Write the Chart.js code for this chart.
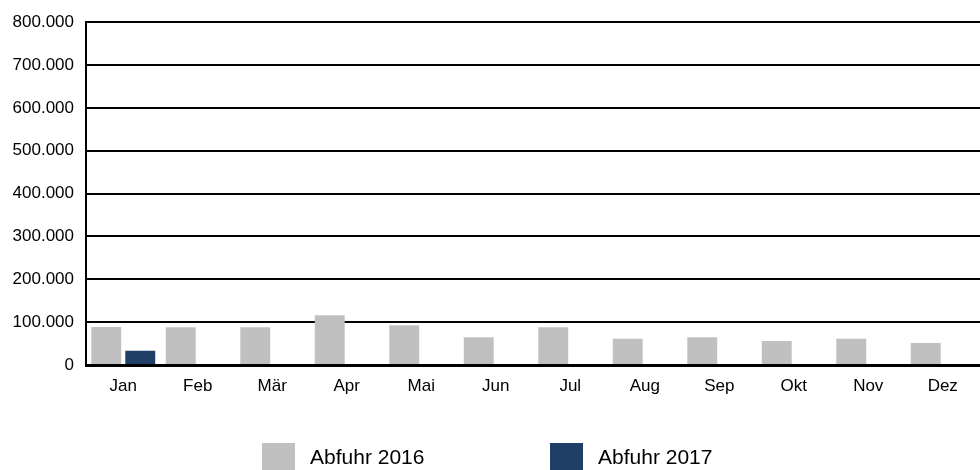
<!DOCTYPE html>
<html lang="de">
<head>
    <meta charset="UTF-8">
    <title>Abfuhr 2016 / 2017</title>
    <script src="https://cdnjs.cloudflare.com/ajax/libs/Chart.js/4.4.1/chart.umd.min.js"></script>
    <style>
        * { margin: 0; padding: 0; box-sizing: border-box; }
        body { background: #fff; }
        .chart-container { position: relative; width: 980px; height: 470px; }
    </style>
</head>
<body>
    <div class="chart-container">
        <canvas id="barChart"></canvas>
    </div>

    <script>
        const months = ['Jan', 'Feb', 'Mär', 'Apr', 'Mai', 'Jun', 'Jul', 'Aug', 'Sep', 'Okt', 'Nov', 'Dez'];
        const abfuhr2016 = [88500, 88000, 88000, 116000, 93000, 65000, 88000, 61000, 65000, 56000, 61000, 51500];
        const abfuhr2017 = [33000, null, null, null, null, null, null, null, null, null, null, null];
        const seriesNames = ['Abfuhr 2016', 'Abfuhr 2017'];
        const yTicks = [0, 100000, 200000, 300000, 400000, 500000, 600000, 700000, 800000];

        const FONT = '"Liberation Sans", Arial, sans-serif';

        function formatDE(v) {
            return String(v).replace(/\B(?=(\d{3})+(?!\d))/g, '.');
        }

        // legend drawn by hand so the boxes sit where the original has them
        const bottomLegend = {
            id: 'bottomLegend',
            afterDraw(chart) {
                const ctx = chart.ctx;
                const xs = [262, 550];
                ctx.save();
                ctx.font = '21px ' + FONT;
                ctx.textBaseline = 'middle';
                ctx.fillStyle = '#000';
                chart.data.datasets.forEach((ds, i) => {
                    ctx.fillStyle = ds.backgroundColor;
                    ctx.fillRect(xs[i], 443, 33, 27);
                    ctx.fillStyle = '#000';
                    ctx.fillText(ds.label, xs[i] + 48, 458);
                });
                ctx.restore();
            }
        };

        new Chart(document.getElementById('barChart'), {
            type: 'bar',
            data: {
                labels: months,
                datasets: [
                    {
                        label: seriesNames[0],
                        data: abfuhr2016,
                        backgroundColor: '#C0C0C0',
                        categoryPercentage: 0.913,
                        barPercentage: 0.88
                    },
                    {
                        label: seriesNames[1],
                        data: abfuhr2017,
                        backgroundColor: '#1F3F66',
                        categoryPercentage: 0.913,
                        barPercentage: 0.88
                    }
                ]
            },
            options: {
                responsive: true,
                maintainAspectRatio: false,
                animation: false,
                layout: { padding: { top: 19, right: 0, bottom: 0, left: 0 } },
                scales: {
                    x: {
                        afterFit: s => { s.height = 105; },
                        grid: { display: false, drawTicks: false },
                        border: { display: true, color: '#000', width: 3 },
                        ticks: {
                            padding: 11,
                            color: '#000',
                            font: { family: FONT, size: 17 }
                        }
                    },
                    y: {
                        min: 0,
                        max: 800000,
                        afterFit: s => { s.width = 86; },
                        afterBuildTicks: s => { s.ticks = yTicks.map(v => ({ value: v })); },
                        grid: { color: '#000', lineWidth: 2, drawTicks: false },
                        border: { display: true, color: '#000', width: 2 },
                        ticks: {
                            padding: 12,
                            color: '#000',
                            font: { family: FONT, size: 17 },
                            callback: v => formatDE(v)
                        }
                    }
                },
                plugins: {
                    legend: { display: false },
                    tooltip: { enabled: false }
                }
            },
            plugins: [bottomLegend]
        });
    </script>
</body>
</html>
